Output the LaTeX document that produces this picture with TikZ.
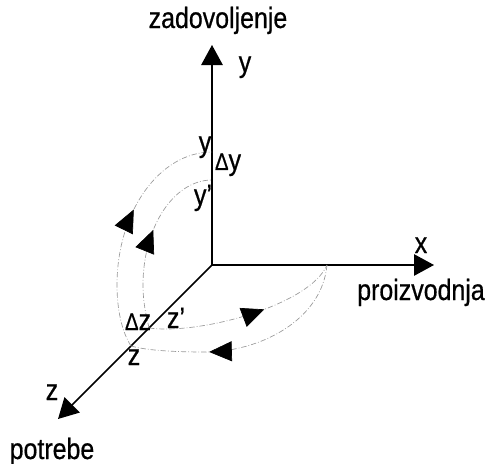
\documentclass[tikz,border=0pt]{standalone}
\usepackage{fontspec}
\setmainfont[FakeStretch=0.85,FakeBold=0.6]{Liberation Sans}
\usetikzlibrary{arrows.meta,decorations.markings}
\tikzset{
  axis/.style={line width=1.3pt,-{Triangle[length=15pt,width=16pt]}},
  orbit/.style={gray!80,line width=0.5pt,dash pattern=on 4pt off 1.5pt on 0.6pt off 1.5pt},
  tipat/.style={postaction={decorate},decoration={markings,
      mark=at position #1 with {\arrow[black]{Triangle[length=17pt,width=15pt]}}}},
  lbl/.style={font=\fontsize{22}{26}\selectfont,inner sep=0pt,anchor=base}
}
\begin{document}
\begin{tikzpicture}[x=0.75pt,y=-0.75pt]
\useasboundingbox (0,0) rectangle (494,464);

%%%%%%%%%%% points
\coordinate (O) at (212,265);
\coordinate (ytip) at (212,45);
\coordinate (xtip) at (434,265);
\coordinate (ztip) at (58,419);
\coordinate (Y1) at (212,152);
\coordinate (Y2) at (212,180);
\coordinate (X1) at (327,265);
\coordinate (Z1) at (131,346);
\coordinate (Z2) at (149,328);

%%%%%%%%%%% axes
\draw[axis] (O) -- (ytip);
\draw[axis] (O) -- (xtip);
\draw[axis] (O) -- (ztip);

% ---------------    left arcs
\draw[orbit,tipat=0.58] (Z1) .. controls (122,332) and (117,310) .. (117,285)
  .. controls (117,211.6) and (159.6,152) .. (Y1);
\draw[orbit,tipat=0.55] (Z2) .. controls (147,318) and (143,305) .. (143,285)
  .. controls (143,227) and (173.9,180) .. (Y2);
% ---------------    bottom arcs
\draw[orbit,tipat=0.67] (X1) .. controls (322,320) and (260,352) .. (205,352)
  .. controls (170,352) and (145,350) .. (Z1);
\draw[orbit,tipat=0.6] (Z2) .. controls (200,335) and (310,305) .. (X1);

%%%%%%%%%%% labels
\node[lbl] (zad) at (218,28) {zadovoljenje};
\node[lbl] (yax) at (245,72) {y};
\node[lbl] (xax) at (421,253) {x};
\node[lbl] (pro) at (421,300) {proizvodnja};
\node[lbl] (zax) at (52,400) {z};
\node[lbl] (pot) at (52,459) {potrebe};
\node[lbl] (ya) at (205,152) {y};
\node[lbl] (dy) at (228,170) {{\fontsize{18}{18}\selectfont Δ}y};
\node[lbl] (yb) at (203,205) {y'};
\node[lbl] (dz) at (138,330) {{\fontsize{18}{18}\selectfont Δ}z};
\node[lbl] (zb) at (176,328) {z'};
\node[lbl] (za) at (134,365) {z};
\end{tikzpicture}
\end{document}
